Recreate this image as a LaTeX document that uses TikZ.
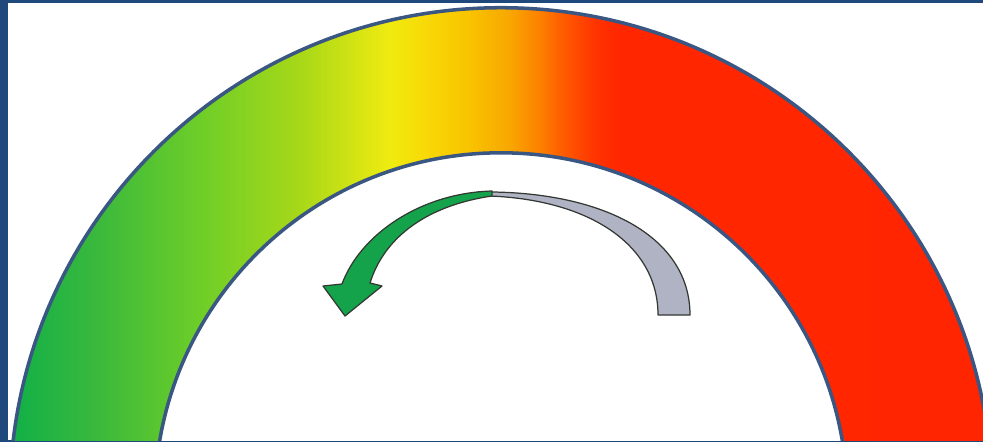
\documentclass[tikz,border=0pt]{standalone}
\usepackage{xcolor}
\usepackage{tikz}
\usetikzlibrary{positioning, calc}
\definecolor{frame}{HTML}{1F497D}
\definecolor{rim}{HTML}{3A5682}
\definecolor{go}{HTML}{14A24A}
\definecolor{back}{HTML}{B0B3C4}
\definecolor{edge}{HTML}{333833}
\pgfdeclarehorizontalshading{heat}{100bp}{
  rgb(0bp)=(0.063,0.69,0.282);
  rgb(25.5bp)=(0.063,0.69,0.282);
  rgb(30.1bp)=(0.235,0.725,0.235);
  rgb(35.2bp)=(0.431,0.808,0.157);
  rgb(40.3bp)=(0.659,0.847,0.094);
  rgb(44.8bp)=(0.937,0.922,0.063);
  rgb(46.4bp)=(0.97,0.86,0.03);
  rgb(48.9bp)=(0.975,0.765,0);
  rgb(50.9bp)=(0.973,0.655,0);
  rgb(52.5bp)=(0.99,0.5,0);
  rgb(53.6bp)=(1,0.36,0);
  rgb(55.3bp)=(1,0.2,0);
  rgb(56.5bp)=(1,0.15,0);
  rgb(100bp)=(1,0.14,0)
}
\tikzset{
  rimline/.style  = {draw=rim, line width=1pt},
  arrowpart/.style = {draw=edge, line width=0.35pt, line join=round},
}

\begin{document}
\begin{tikzpicture}[x=0.01cm, y=-0.01cm]

  % frame
  \fill[frame] (0,0) rectangle (983,442);
  \fill[white] (8,3) rectangle (983,440);
  \useasboundingbox (0,0) rectangle (983,442);

  \coordinate (hub) at (501,499);

  % gauge band
  \begin{scope}
    \clip (8,3) rectangle (983,440);
    \begin{scope}
      \clip (hub) circle [radius=4.91cm];
      \shade[shading=heat] (0,0) rectangle (983,442);
    \end{scope}
    \fill[white] (hub) circle [radius=3.46cm];
    \draw[rimline] (hub) circle [radius=4.91cm];
    \draw[rimline] (hub) circle [radius=3.46cm];
  \end{scope}

  % curved arrow
  \filldraw[arrowpart, fill=back] (478,192) .. controls (600,190) and (690,235) .. (690,315)
    -- (658,315) .. controls (658,245) and (590,200) .. (490,196) -- cycle;
  \filldraw[arrowpart, fill=go] (492,191) .. controls (420,193) and (360,235) .. (342,284)
    -- (323,286) -- (345,316) -- (382,286) -- (370,283)
    .. controls (385,235) and (430,205) .. (492,196) -- cycle;

\end{tikzpicture}
\end{document}
